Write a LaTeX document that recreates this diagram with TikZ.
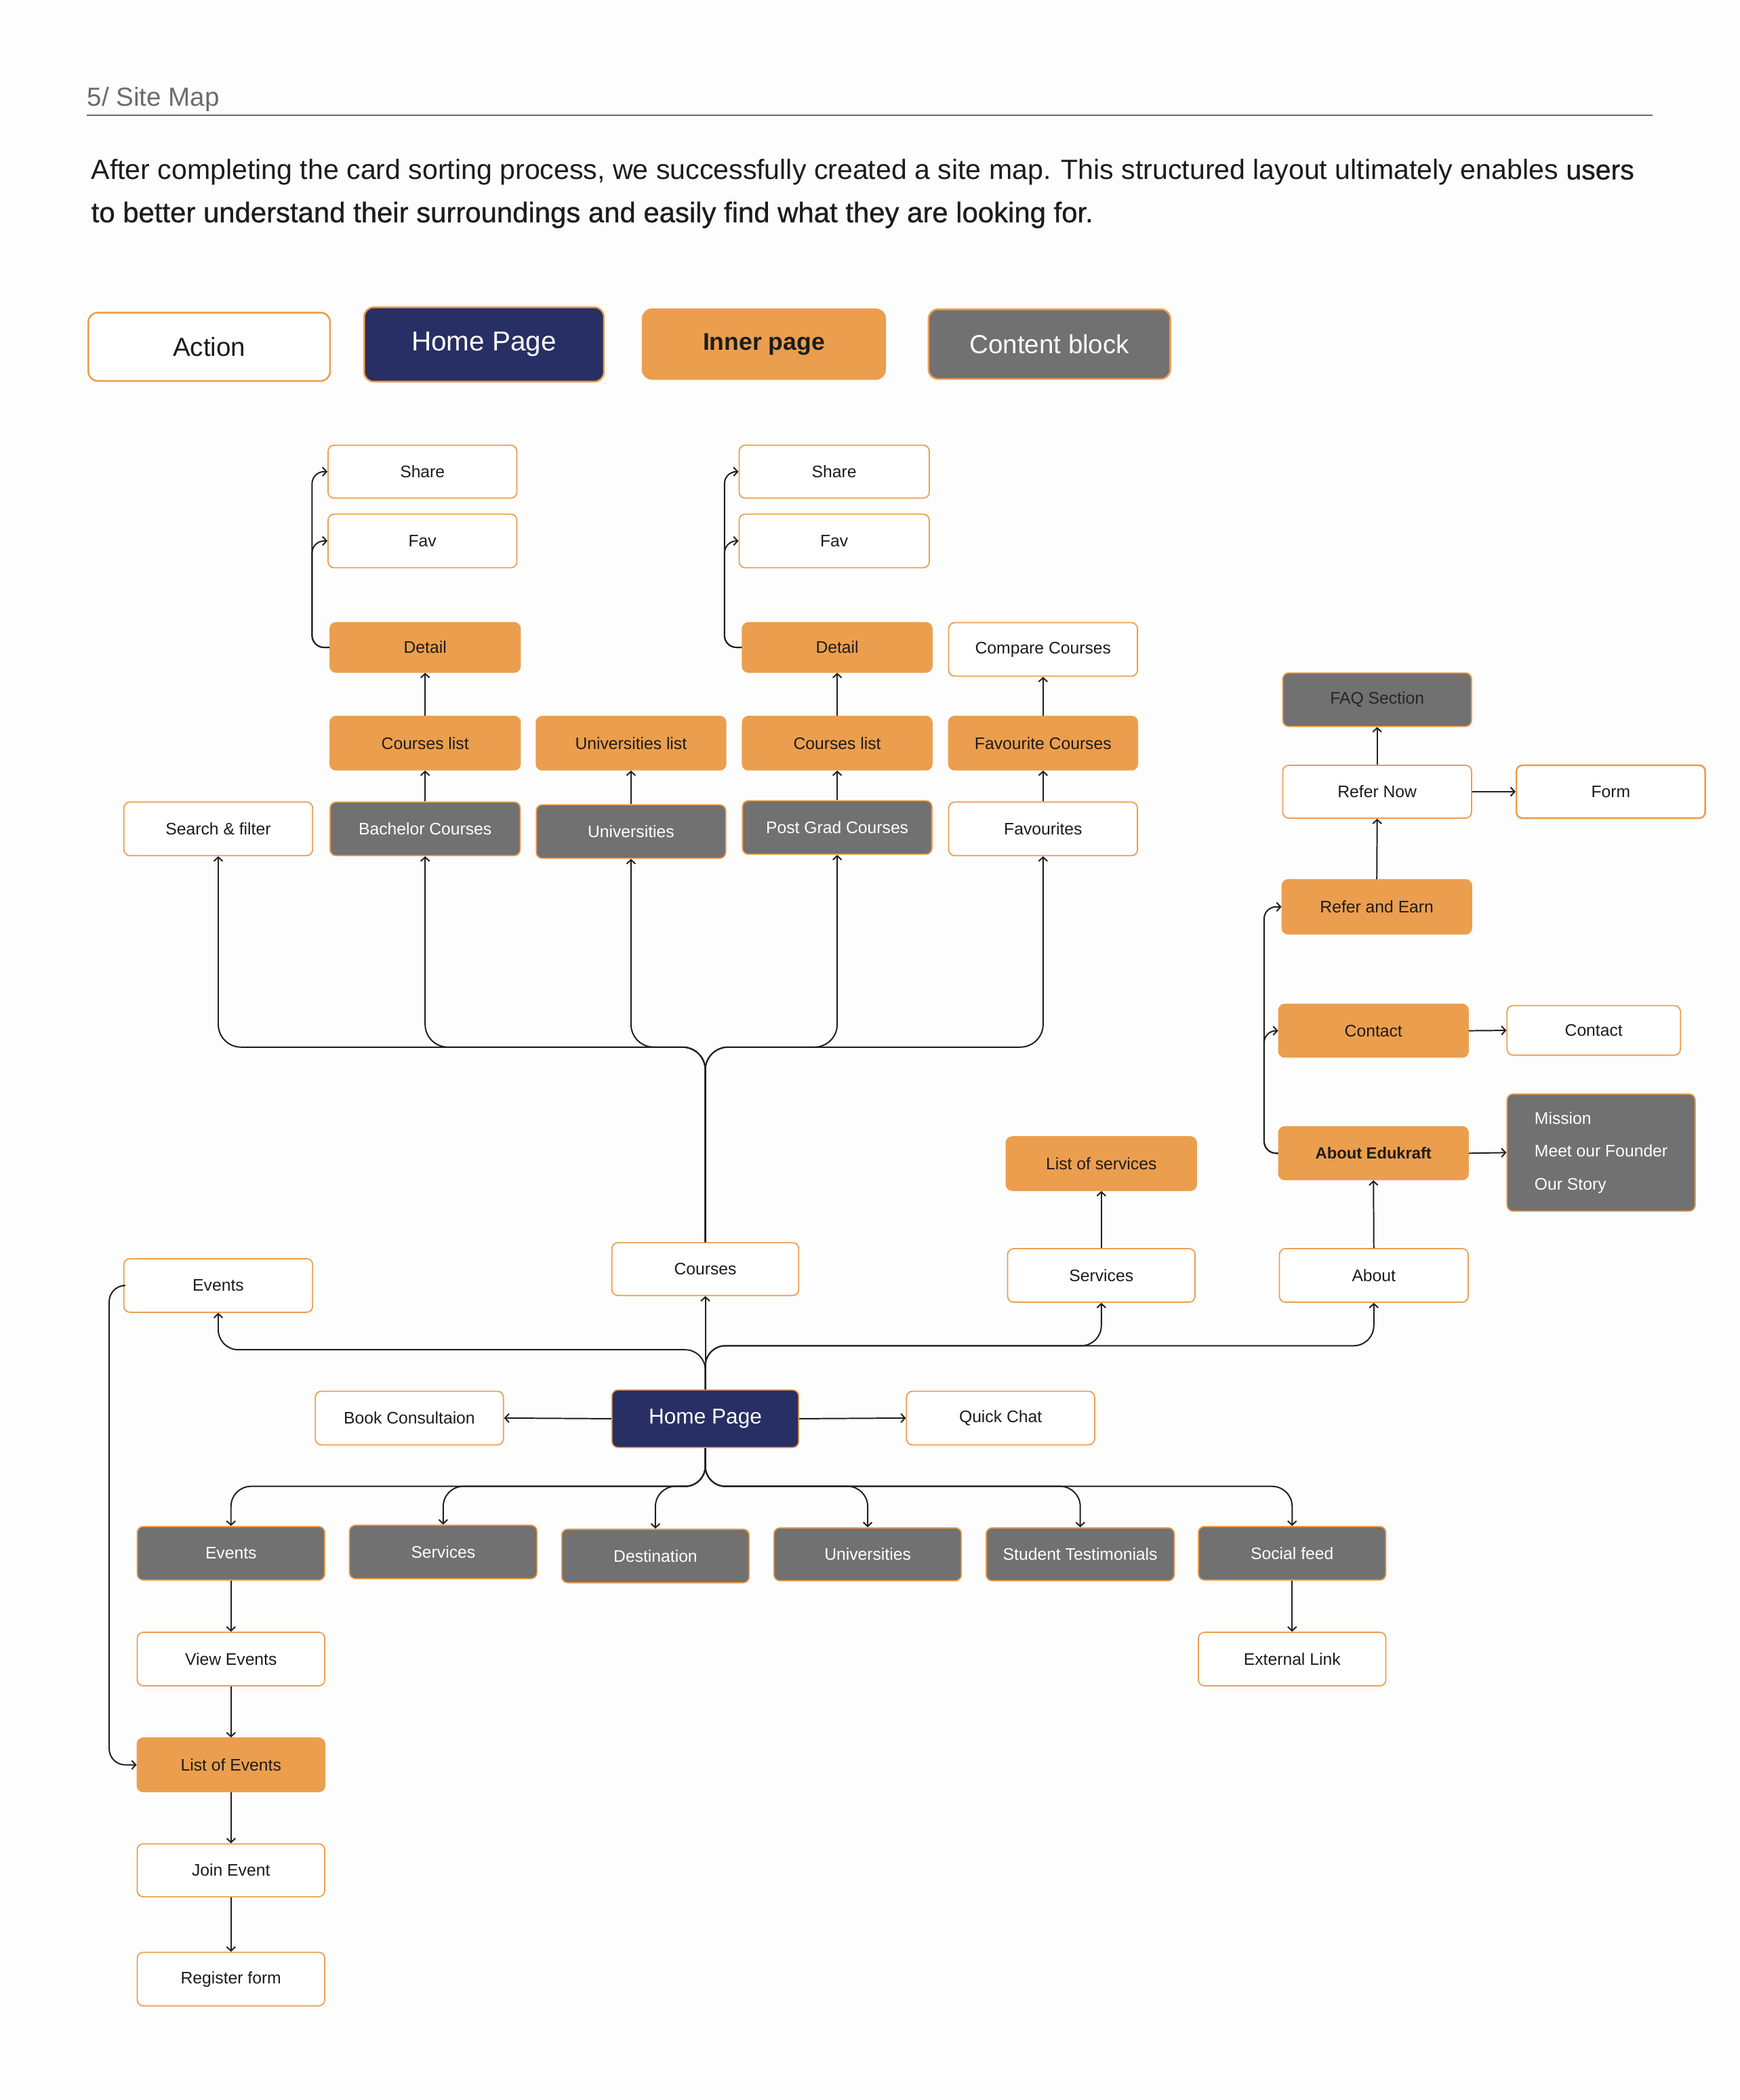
\documentclass[tikz,border=0pt]{standalone}
\usepackage{fontspec}
\setmainfont{Liberation Sans}
\usetikzlibrary{arrows.meta}
\definecolor{orng}{HTML}{EB9E4E}
\definecolor{navy}{HTML}{272F64}
\definecolor{gry}{HTML}{717171}
\definecolor{txt}{HTML}{1C1C1C}
\definecolor{bgc}{HTML}{FDFDFD}
\definecolor{rulec}{HTML}{6B6B6B}
\definecolor{faqtxt}{HTML}{262626}
\newcommand{\mkbox}[7]{\node[#2, minimum width={(#5-#3)*1pt}, minimum height={(#6-#4)*1pt}] (#1) at ({(#3+#5)/2},{(#4+#6)/2}) {#7};}
\tikzset{
 boxbase/.style={draw=orng, line width=0.9pt, rounded corners=4.5pt, inner sep=0pt, font=\fontsize{12.5}{15}\selectfont, text=txt},
 act/.style={boxbase, fill=white},
 inn/.style={boxbase, fill=orng},
 cnt/.style={boxbase, fill=gry, text=white},
 hom/.style={boxbase, fill=navy, text=white},
 leg/.style={line width=1.3pt, rounded corners=7pt, font=\fontsize{19.5}{22}\selectfont},
 conn/.style={draw=black!88, line width=1pt, -{Straight Barb[length=3pt,width=6.5pt]}},
 treelink/.style={conn, rounded corners=17pt},
 sidelink/.style={conn, rounded corners=9pt},
 ptext/.style={anchor=base west, inner sep=0pt, text=txt},
}
\begin{document}
\begin{tikzpicture}[x=1pt,y=-1pt]
\fill[bgc] (0,0) rectangle (1299,1568.3);
\useasboundingbox (0,0) rectangle (1299,1568.3);

% header
\node[anchor=base west, inner sep=0pt, text=rulec, font=\fontsize{19.5}{22}\selectfont] (ttl) at (65,79) {5/ Site Map};
\draw[rulec, line width=1.4pt] (65,86) -- (1234,86);
\node[ptext, font=\fontsize{20.8}{24}\selectfont] (p1) at (68,134) {After completing the card sorting process, we successfully created a site map. This structured layout ultimately enables {\addfontfeature{FakeBold=0.8}users}};
\node[ptext, font=\fontsize{21.2}{24}\selectfont] (p2) at (68,166) {\addfontfeature{FakeBold=0.8}to better understand their surroundings and easily find what they are looking for.};

% legend
\mkbox{lgA}{act,leg}{66}{233.5}{246.5}{284.5}{Action}
\mkbox{lgH}{hom,leg,font=\fontsize{20.5}{23}\selectfont}{272}{229.5}{451}{285}{Home Page}
\mkbox{lgI}{inn,leg,font=\fontsize{18}{21}\selectfont\bfseries}{480}{231}{661}{283}{Inner page}
\mkbox{lgC}{cnt,leg}{693.5}{231}{874}{283}{Content block}

% top tree
\mkbox{shareL}{act}{245}{332.5}{386}{372}{Share}
\mkbox{favL}{act}{245}{384}{386}{424}{Fav}
\mkbox{detL}{inn}{246.5}{465}{388.5}{502}{Detail}
\mkbox{clL}{inn}{246.5}{535}{388.5}{575}{Courses list}
\mkbox{bach}{cnt}{246.5}{599}{388.5}{639}{Bachelor Courses}
\mkbox{srch}{act}{92.5}{599}{233.5}{639}{Search \& filter}
\mkbox{ulist}{inn}{400.5}{535}{542}{575}{Universities list}
\mkbox{univT}{cnt}{400.5}{601}{542}{641}{Universities}
\mkbox{shareR}{act}{552}{332.5}{694}{372}{Share}
\mkbox{favR}{act}{552}{384}{694}{424}{Fav}
\mkbox{detR}{inn}{554.5}{465}{696}{502}{Detail}
\mkbox{clR}{inn}{554.5}{535}{696}{575}{Courses list}
\mkbox{pg}{cnt}{554.5}{598}{696}{638}{Post Grad Courses}
\mkbox{cmp}{act}{708.5}{465}{849.5}{505}{Compare Courses}
\mkbox{fvc}{inn}{708.5}{535}{849.5}{575}{Favourite Courses}
\mkbox{fvs}{act}{708.5}{599}{849.5}{639}{Favourites}

% right column
\mkbox{faq}{cnt,text=faqtxt}{958}{502.5}{1099}{542.5}{FAQ Section}
\mkbox{rnow}{act}{958}{571.5}{1099}{611}{Refer Now}
\mkbox{form}{act,line width=1.3pt}{1132.5}{571.5}{1273.5}{611}{Form}
\mkbox{rae}{inn}{957.5}{657}{1099}{697.5}{Refer and Earn}
\mkbox{conO}{inn}{955}{750}{1096.5}{789.5}{Contact}
\mkbox{conW}{act}{1125.5}{751}{1255}{788}{Contact}
\mkbox{abE}{inn,font=\fontsize{12}{14}\selectfont\bfseries}{955}{841.5}{1096.5}{881}{About Edukraft}
\mkbox{mis}{cnt,align=left,font=\fontsize{12.5}{24.5}\selectfont}{1125.5}{817}{1266}{904.5}{Mission\\Meet our Founder\\Our Story}
\mkbox{los}{inn}{751.5}{849}{893.5}{889}{List of services}
\mkbox{srvT}{act}{752.5}{932.5}{892.5}{972.5}{Services}
\mkbox{abt}{act}{955.5}{932.5}{1096.5}{972.5}{About}

% home level
\mkbox{crs}{act}{457}{928}{596.5}{967.5}{Courses}
\mkbox{evT}{act}{92.5}{940}{233.5}{980}{Events}
\mkbox{home}{hom,font=\fontsize{16}{18}\selectfont}{457}{1038}{596.5}{1081}{Home Page}
\mkbox{book}{act}{235.5}{1039}{376}{1079}{Book Consultaion}
\mkbox{qc}{act}{677}{1039}{817.5}{1079}{Quick Chat}

% bottom row
\mkbox{evB}{cnt}{102.5}{1140}{242.5}{1180}{Events}
\mkbox{srvB}{cnt}{261}{1139}{401}{1179}{Services}
\mkbox{dst}{cnt}{419.5}{1142}{559.5}{1182}{Destination}
\mkbox{unB}{cnt}{578}{1141}{718}{1180.5}{Universities}
\mkbox{stu}{cnt}{736.5}{1141}{877}{1180.5}{Student Testimonials}
\mkbox{soc}{cnt}{895}{1140}{1035}{1180}{Social feed}
\mkbox{ext}{act}{895}{1219}{1035}{1259}{External Link}
\mkbox{vev}{act}{102.5}{1219}{242.5}{1259}{View Events}
\mkbox{loe}{inn}{102.5}{1298}{242.5}{1338}{List of Events}
\mkbox{join}{act}{102.5}{1377}{242.5}{1416.5}{Join Event}
\mkbox{reg}{act}{102.5}{1458}{242.5}{1498}{Register form}

% helper levels
\coordinate (yTop) at (0,782);
\coordinate (yUpL) at (0,1008);
\coordinate (yUpR) at (0,1005);
\coordinate (yDn) at (0,1110);

% courses tree
\foreach \t in {srch,bach,univT,pg,fvs}
  \draw[treelink] (crs.north) |- (\t.south |- yTop) -- (\t.south);
\draw[conn] (bach.north) -- (clL.south);
\draw[conn] (clL.north) -- (detL.south);
\draw[conn] (univT.north) -- (ulist.south);
\draw[conn] (pg.north) -- (clR.south);
\draw[conn] (clR.north) -- (detR.south);
\draw[conn] (fvs.north) -- (fvc.south);
\draw[conn] (fvc.north) -- (cmp.south);
\draw[sidelink] (detL.west) -- ++(-13,0) |- (shareL.west);
\draw[sidelink] (detL.west) -- ++(-13,0) |- (favL.west);
\draw[sidelink] (detR.west) -- ++(-13,0) |- (shareR.west);
\draw[sidelink] (detR.west) -- ++(-13,0) |- (favR.west);

% right side
\draw[sidelink] (abE.west) -- ++(-10.5,0) |- (conO.west);
\draw[sidelink] (abE.west) -- ++(-10.5,0) |- (rae.west);
\draw[conn] (abE.east) -- (mis.west);
\draw[conn] (conO.east) -- (conW.west);
\draw[conn] (rnow.east) -- (form.west);
\draw[conn] (rae.north) -- (rnow.south);
\draw[conn] (rnow.north) -- (faq.south);
\draw[conn] (srvT.north) -- (los.south);
\draw[conn] (abt.north) -- (abE.south);

% home upward
\draw[conn, rounded corners=15pt] (home.north) |- (evT.south |- yUpL) -- (evT.south);
\draw[conn] (home.north) -- (crs.south);
\draw[conn, rounded corners=15pt] (home.north) |- (srvT.south |- yUpR) -- (srvT.south);
\draw[conn, rounded corners=15pt] (home.north) |- (abt.south |- yUpR) -- (abt.south);
\draw[conn] (home.west) -- (book.east);
\draw[conn] (home.east) -- (qc.west);

% home downward
\foreach \t in {evB,srvB,dst,unB,stu,soc}
  \draw[conn, rounded corners=15pt] (home.south) |- (\t.north |- yDn) -- (\t.north);
\draw[conn] (evB.south) -- (vev.north);
\draw[conn] (vev.south) -- (loe.north);
\draw[conn] (loe.south) -- (join.north);
\draw[conn] (join.south) -- (reg.north);
\draw[conn] (soc.south) -- (ext.north);
\draw[conn, rounded corners=12pt] (evT.west) -- ++(-10.5,0) |- (loe.west);
\end{tikzpicture}
\end{document}
